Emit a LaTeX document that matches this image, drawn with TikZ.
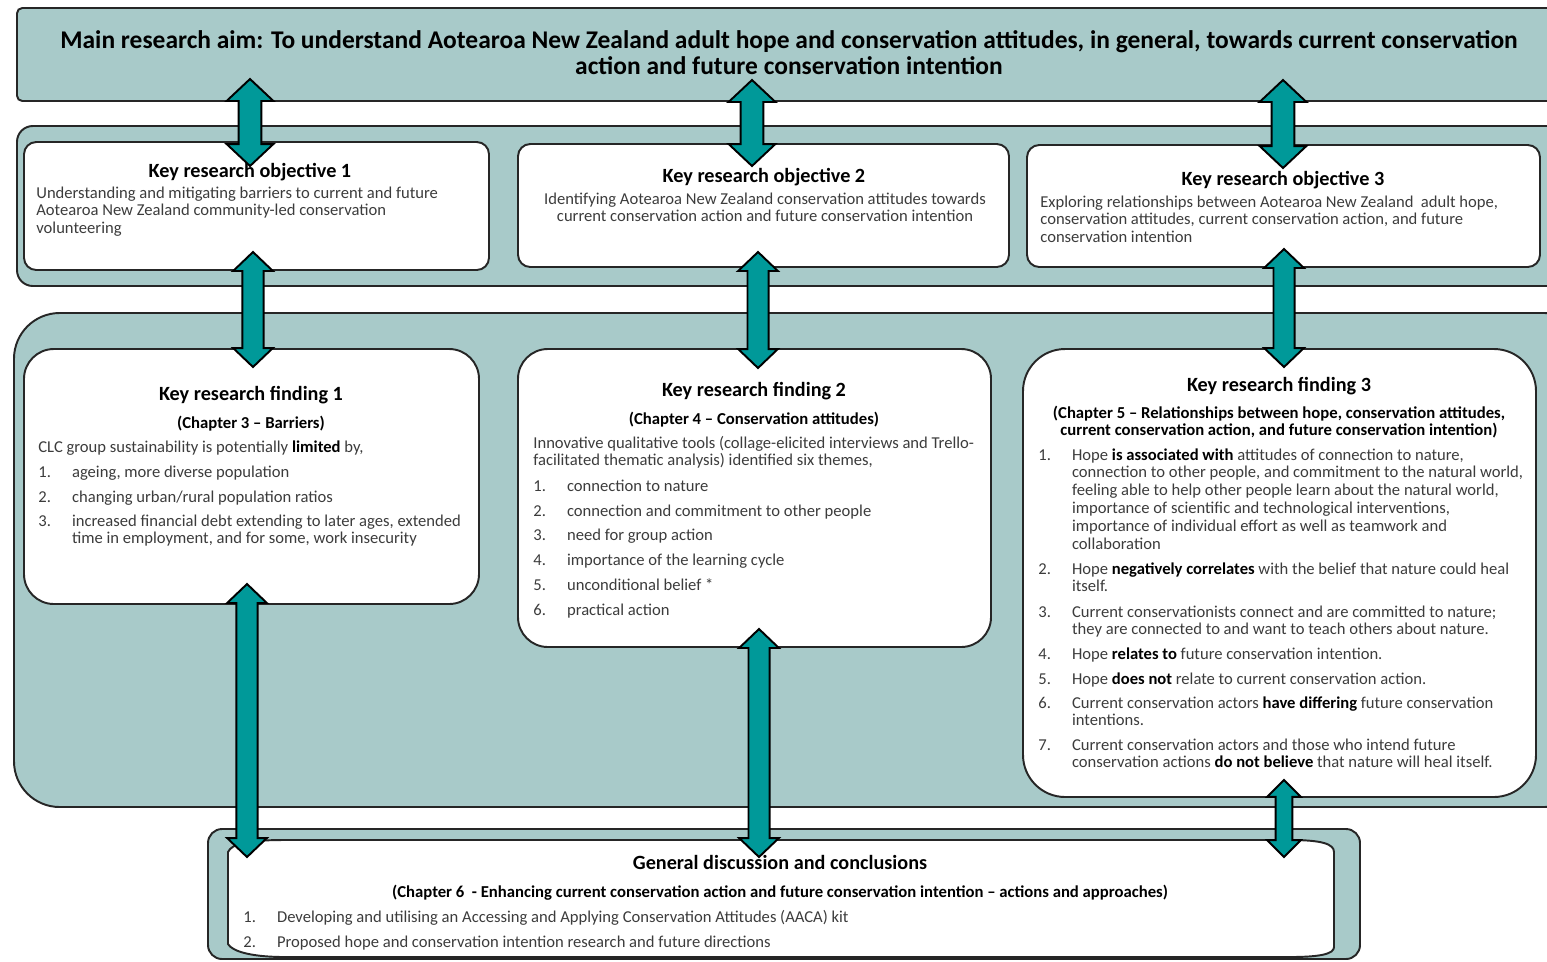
\documentclass[tikz,border=0pt]{standalone}
\usepackage{fontspec}
\setmainfont{Carlito}
\usetikzlibrary{calc}

\definecolor{panelgrey}{RGB}{168,202,201}
\definecolor{arrowteal}{RGB}{0,153,153}
\definecolor{bodytext}{RGB}{60,60,60}

\tikzset{
  panel/.style={draw=black!85, line width=1.1pt, fill=panelgrey},
  whitebox/.style={draw=black!85, line width=1.1pt, fill=white},
  twoway/.style={draw=black, line width=1.1pt, fill=arrowteal, line join=miter},
  body/.style={inner sep=0pt, anchor=base west, text=bodytext, font=\fontsize{9.45pt}{10.2pt}\selectfont},
  bodyc/.style={body, anchor=base},
  head/.style={inner sep=0pt, anchor=base, font=\bfseries\fontsize{11.5pt}{13pt}\selectfont},
  chap/.style={inner sep=0pt, anchor=base, font=\bfseries\fontsize{9.5pt}{9.9pt}\selectfont},
  aimtxt/.style={inner sep=0pt, anchor=base, font=\bfseries\fontsize{14.5pt}{15.3pt}\selectfont},
}

\newcommand\kw[1]{\textcolor{black}{\textbf{#1}}}
\newcommand\leftpar[1]{\parbox[t]{320pt}{\raggedright #1}}
\newcommand\midpar[2]{\parbox[t]{#1}{\centering #2}}
\newcommand\numitem[2]{\makebox[19.2pt][l]{#1}\parbox[t]{600pt}{\raggedright #2}}
% double headed block arrow: top end, bottom end, half head, half shaft, head length
\newcommand\twoway[5]{%
  \draw[twoway] let \p1=(#1), \p2=(#2) in
    (\x1,\y1) -- (\x1+#3,\y1-#5) -- (\x1+#4,\y1-#5) -- (\x1+#4,\y2+#5) -- (\x1+#3,\y2+#5)
    -- (\x1,\y2) -- (\x1-#3,\y2+#5) -- (\x1-#4,\y2+#5) -- (\x1-#4,\y1-#5) -- (\x1-#3,\y1-#5) -- cycle;}

\begin{document}
\begin{tikzpicture}[x=0.02cm, y=-0.02cm]
  \useasboundingbox (0,0) rectangle (1547,961);
  \clip (0,0) rectangle (1547,961);
  \fill[white] (0,0) rectangle (1547,961);

  % panels
  \draw[panel, rounded corners=3pt] (17,8) rectangle (1580,101);
  \draw[panel, rounded corners=9pt] (17,126) rectangle (1580,286);
  \draw[panel, rounded corners=26pt] (14,313) rectangle (1590,807);
  \draw[panel, rounded corners=8pt] (208,829) rectangle (1360,959);

  % boxes
  \draw[whitebox, rounded corners=7pt] (24,142) rectangle (489,270);
  \draw[whitebox, rounded corners=7pt] (518,144) rectangle (1009,267);
  \draw[whitebox, rounded corners=7pt] (1027,145) rectangle (1540,267);
  \draw[whitebox, rounded corners=17pt] (24,349) rectangle (479,604);
  \draw[whitebox, rounded corners=17pt] (518,349) rectangle (991,647);
  \draw[whitebox, rounded corners=24pt] (1023,349) rectangle (1536,797);
  \draw[whitebox] (228,852) .. controls (232,843) and (250,840) .. (285,840) -- (1290,840)
    .. controls (1322,840) and (1334,844) .. (1334,852) -- (1334,947)
    .. controls (1334,954) and (1320,957) .. (1290,957) -- (285,957)
    .. controls (250,957) and (232,951) .. (228,944) -- cycle;

  \begin{scope}[shift={(0,1)}]
  % main aim
  \node[aimtxt] (aim) at (789,47) {\midpar{900pt}{Main research aim: To understand Aotearoa New Zealand adult hope and conservation attitudes, in general, towards current conservation\\ action and future conservation intention}};

  % objectives
  \node[head] (o1head) at (250,176) {Key research objective 1};
  \node[body] (o1body) at (36,197) {\leftpar{Understanding and mitigating barriers to current and future\\ Aotearoa New Zealand community-led conservation\\ volunteering}};
  \node[head] (o2head) at (764,181) {Key research objective 2};
  \node[bodyc] (o2body) at (765,203) {\midpar{320pt}{Identifying Aotearoa New Zealand conservation attitudes towards\\ current conservation action and future conservation intention}};
  \node[head] (o3head) at (1283,184) {Key research objective 3};
  \node[body] (o3body) at (1040,206) {\leftpar{Exploring relationships between Aotearoa New Zealand \ adult hope,\\ conservation attitudes, current conservation action, and future\\ conservation intention}};

  % finding 1
  \node[head] (f1head) at (251,399) {Key research finding 1};
  \node[chap] (f1chap) at (251,427) {(Chapter 3 -- Barriers)};
  \node[body] (f1par) at (38,451) {CLC group sustainability is potentially \kw{limited} by,};
  \node[body] (f1i1) at (38,476) {\numitem{1.}{ageing, more diverse population}};
  \node[body] (f1i2) at (38,501) {\numitem{2.}{changing urban/rural population ratios}};
  \node[body] (f1i3) at (38,525) {\numitem{3.}{increased financial debt extending to later ages, extended\\ time in employment, and for some, work insecurity}};

  % finding 2
  \node[head] (f2head) at (754,395) {Key research finding 2};
  \node[chap] (f2chap) at (754,423) {(Chapter 4 -- Conservation attitudes)};
  \node[body] (f2par) at (533,447) {\leftpar{Innovative qualitative tools (collage-elicited interviews and Trello-\\ facilitated thematic analysis) identified six themes,}};
  \node[body] (f2i1) at (533,490) {\numitem{1.}{connection to nature}};
  \node[body] (f2i2) at (533,515) {\numitem{2.}{connection and commitment to other people}};
  \node[body] (f2i3) at (533,539) {\numitem{3.}{need for group action}};
  \node[body] (f2i4) at (533,564) {\numitem{4.}{importance of the learning cycle}};
  \node[body] (f2i5) at (533,589) {\numitem{5.}{unconditional belief *}};
  \node[body] (f2i6) at (533,614) {\numitem{6.}{practical action}};

  % finding 3
  \node[head] (f3head) at (1279,390) {Key research finding 3};
  \node[chap] (f3chap) at (1279,417) {\midpar{320pt}{(Chapter 5 -- Relationships between hope, conservation attitudes,\\ current conservation action, and future conservation intention)}};
  \node[body] (f3i1) at (1038,459) {\numitem{1.}{Hope \kw{is associated with} attitudes of connection to nature,\\ connection to other people, and commitment to the natural world,\\ feeling able to help other people learn about the natural world,\\ importance of scientific and technological interventions,\\ importance of individual effort as well as teamwork and\\ collaboration}};
  \node[body] (f3i2) at (1038,573) {\numitem{2.}{Hope \kw{negatively correlates} with the belief that nature could heal\\ itself.}};
  \node[body] (f3i3) at (1038,616) {\numitem{3.}{Current conservationists connect and are committed to nature;\\ they are connected to and want to teach others about nature.}};
  \node[body] (f3i4) at (1038,658) {\numitem{4.}{Hope \kw{relates to} future conservation intention.}};
  \node[body] (f3i5) at (1038,683) {\numitem{5.}{Hope \kw{does not} relate to current conservation action.}};
  \node[body] (f3i6) at (1038,707) {\numitem{6.}{Current conservation actors \kw{have differing} future conservation\\ intentions.}};
  \node[body] (f3i7) at (1038,749) {\numitem{7.}{Current conservation actors and those who intend future\\ conservation actions \kw{do not believe} that nature will heal itself.}};

  % general discussion
  \node[head] (gdhead) at (780,868) {General discussion and conclusions};
  \node[chap] (gdchap) at (780,896) {(Chapter 6 \ - Enhancing current conservation action and future conservation intention -- actions and approaches)};
  \node[body] (gdi1) at (243,921) {\numitem{1.}{Developing and utilising an Accessing and Applying Conservation Attitudes (AACA) kit}};
  \node[body] (gdi2) at (243,946) {\numitem{2.}{Proposed hope and conservation intention research and future directions}};
  \end{scope}

  % arrows
  \coordinate (a1t) at (250,79);   \coordinate (a1b) at (250,166);
  \coordinate (a2t) at (752,80);   \coordinate (a2b) at (752,166);
  \coordinate (a3t) at (1283,80);  \coordinate (a3b) at (1283,168);
  \coordinate (a4t) at (253,252);  \coordinate (a4b) at (253,367);
  \coordinate (a5t) at (758,252);  \coordinate (a5b) at (758,368);
  \coordinate (a6t) at (1284,249); \coordinate (a6b) at (1284,367);
  \coordinate (a7t) at (247,584);  \coordinate (a7b) at (247,857);
  \coordinate (a8t) at (759,629);  \coordinate (a8b) at (759,857);
  \coordinate (a9t) at (1284,780); \coordinate (a9b) at (1284,857);
  \twoway{a1t}{a1b}{13.3pt}{6.5pt}{12.5pt}
  \twoway{a2t}{a2b}{13.3pt}{6.5pt}{12.5pt}
  \twoway{a3t}{a3b}{13.3pt}{6.5pt}{12.5pt}
  \twoway{a4t}{a4b}{11.3pt}{6pt}{10.8pt}
  \twoway{a5t}{a5b}{11.3pt}{6pt}{10.8pt}
  \twoway{a6t}{a6b}{11.3pt}{6pt}{10.8pt}
  \twoway{a7t}{a7b}{11.3pt}{6pt}{10.8pt}
  \twoway{a8t}{a8b}{11.3pt}{6pt}{10.8pt}
  \twoway{a9t}{a9b}{9.6pt}{4.8pt}{9.6pt}
\end{tikzpicture}
\end{document}
